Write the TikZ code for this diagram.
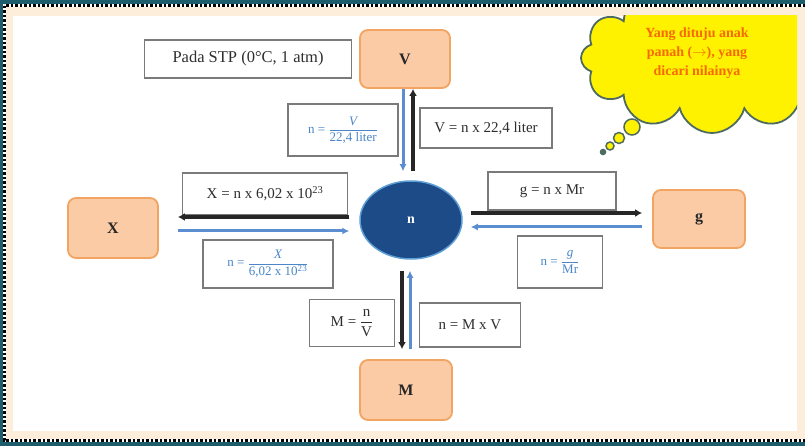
\documentclass[tikz,border=0pt]{standalone}
\usepackage{fontspec}
\setmainfont{Liberation Serif}
\newfontfamily\serifb{Liberation Serif}
\usepackage{amsmath}
\usetikzlibrary{shapes.symbols,shapes.geometric,arrows.meta}
\definecolor{tealbg}{HTML}{1E5E6C}
\definecolor{creambg}{HTML}{FCEEDB}
\definecolor{orfill}{HTML}{FBCBA6}
\definecolor{orline}{HTML}{F2A463}
\definecolor{navy}{HTML}{1D4B87}
\definecolor{navyline}{HTML}{5E9FD6}
\definecolor{boxline}{HTML}{7A7A7A}
\definecolor{txtgray}{HTML}{2E2E2E}
\definecolor{bluearr}{HTML}{5B8ED0}
\definecolor{bluetxt}{HTML}{4A86C8}
\definecolor{cloudline}{HTML}{4E6B5E}
\definecolor{cloudtxt}{HTML}{F76A00}
\tikzset{
  mainbox/.style={draw=orline, fill=orfill, line width=1.8pt, rounded corners=8pt,
    font=\serifb\fontsize{16}{18}\selectfont\bfseries, text=black!85},
  lblbox/.style={draw=boxline, fill=white, line width=1.8pt, inner sep=0pt,
    font=\fontsize{15}{17}\selectfont, text=txtgray},
  bluelbl/.style={lblbox, text=bluetxt, font=\fontsize{13}{15}\selectfont},
  blkarr/.style={draw=black!85, line width=3.4pt, -{Latex[length=7pt,width=8pt]}},
  bluarr/.style={draw=bluearr, line width=3pt, -{Latex[length=7pt,width=7pt]}},
  bubble/.style={draw=cloudline, fill=yellow, line width=1.5pt, circle, inner sep=0pt},
}
\begin{document}
\begin{tikzpicture}[x=1pt,y=-1pt]
\useasboundingbox (0,0) rectangle (805,446);
% frame
\fill[tealbg] (0,0) rectangle (805,446);
\draw[white, line width=3pt] (4,6) rectangle (812,440);
\draw[black, line width=3pt, dash pattern=on 2.5pt off 2pt] (4,6) rectangle (812,440);
\fill[creambg] (5.5,7.5) rectangle (805,438.5);
\fill[white] (13,16) rectangle (797,431);
% cloud
\begin{scope}
\clip (13,16) rectangle (797,431);
\node[cloud, cloud puffs=12, aspect=1.7, minimum width=262pt, minimum height=150pt,
  fill=yellow, draw=cloudline, line width=1.8pt] (cloud) at (712,58) {};
\end{scope}
\node[bubble, minimum size=16pt] (b1) at (632,127) {};
\node[bubble, minimum size=11pt] (b2) at (619,138) {};
\node[bubble, minimum size=8pt] (b3) at (610,146) {};
\node[bubble, fill=cloudline, minimum size=5pt] (b4) at (603,152) {};
\node[align=center, text=cloudtxt, font=\fontsize{14}{19}\selectfont\bfseries] (ctext) at (697,53)
  {Yang dituju anak\\panah ($\rightarrow$), yang\\dicari nilainya};
% main nodes
\node[lblbox, minimum width=207pt, minimum height=38pt, font=\fontsize{16.5}{18}\selectfont] (stp) at (248,59) {Pada STP (0\textdegree C, 1 atm)};
\node[mainbox, minimum width=90pt, minimum height=58pt] (V) at (405,59) {V};
\node[mainbox, minimum width=90pt, minimum height=60pt] (X) at (113,228) {X};
\node[mainbox, minimum width=92pt, minimum height=58pt] (g) at (699,219) {g};
\node[mainbox, minimum width=92pt, minimum height=60pt] (M) at (406,390) {M};
\node[ellipse, draw=navyline, fill=navy, line width=1.5pt, minimum width=102pt, minimum height=78pt,
  text=white, font=\serifb\fontsize{14}{16}\selectfont\bfseries] (n) at (411,220) {n};
% labels
\node[bluelbl, minimum width=110pt, minimum height=52pt] (l1) at (343,130) {n = $\dfrac{\textit{V}}{\text{22,4 liter}}$};
\node[lblbox, minimum width=132pt, minimum height=40pt] (l2) at (486,128) {V = n x 22,4 liter};
\node[lblbox, minimum width=165pt, minimum height=42pt] (l3) at (265,194) {X = n x 6,02 x 10\textsuperscript{23}};
\node[bluelbl, minimum width=130pt, minimum height=48pt] (l4) at (268,264) {n = $\dfrac{\textit{X}}{\text{6,02 x 10\textsuperscript{23}}}$};
\node[lblbox, minimum width=128pt, minimum height=38pt] (l5) at (552,191) {g = n x Mr};
\node[bluelbl, minimum width=85pt, minimum height=52pt] (l6) at (560,262) {n = $\dfrac{\textit{g}}{\text{Mr}}$};
\node[lblbox, minimum width=85pt, minimum height=47pt] (l7) at (352,323) {M = $\dfrac{\text{n}}{\text{V}}$};
\node[lblbox, minimum width=101pt, minimum height=44pt] (l8) at (470,325) {n = M x V};
% arrows V <-> n
\draw[bluarr] ([xshift=-2pt]V.south) -- ([xshift=-8pt,yshift=9pt]n.north);
\draw[blkarr] ([xshift=2pt,yshift=9pt]n.north) -- ([xshift=8pt]V.south);
% arrows X <-> n
\draw[blkarr] ([xshift=-10pt,yshift=3pt]n.west) -- ([xshift=19pt,yshift=11pt]X.east);
\draw[bluarr] ([xshift=19pt,yshift=-3pt]X.east) -- ([xshift=-10pt,yshift=-11pt]n.west);
% arrows n <-> g
\draw[blkarr] ([xshift=8pt,yshift=7pt]n.east) -- ([xshift=-10pt,yshift=6pt]g.west);
\draw[bluarr] ([xshift=-10pt,yshift=-8pt]g.west) -- ([xshift=8pt,yshift=-7pt]n.east);
% arrows n <-> M
\draw[blkarr] ([xshift=-9pt,yshift=-11pt]n.south) -- ([xshift=-4pt,yshift=10pt]M.north);
\draw[bluarr] ([xshift=4pt,yshift=10pt]M.north) -- ([xshift=-1pt,yshift=-11pt]n.south);
\end{tikzpicture}
\end{document}
